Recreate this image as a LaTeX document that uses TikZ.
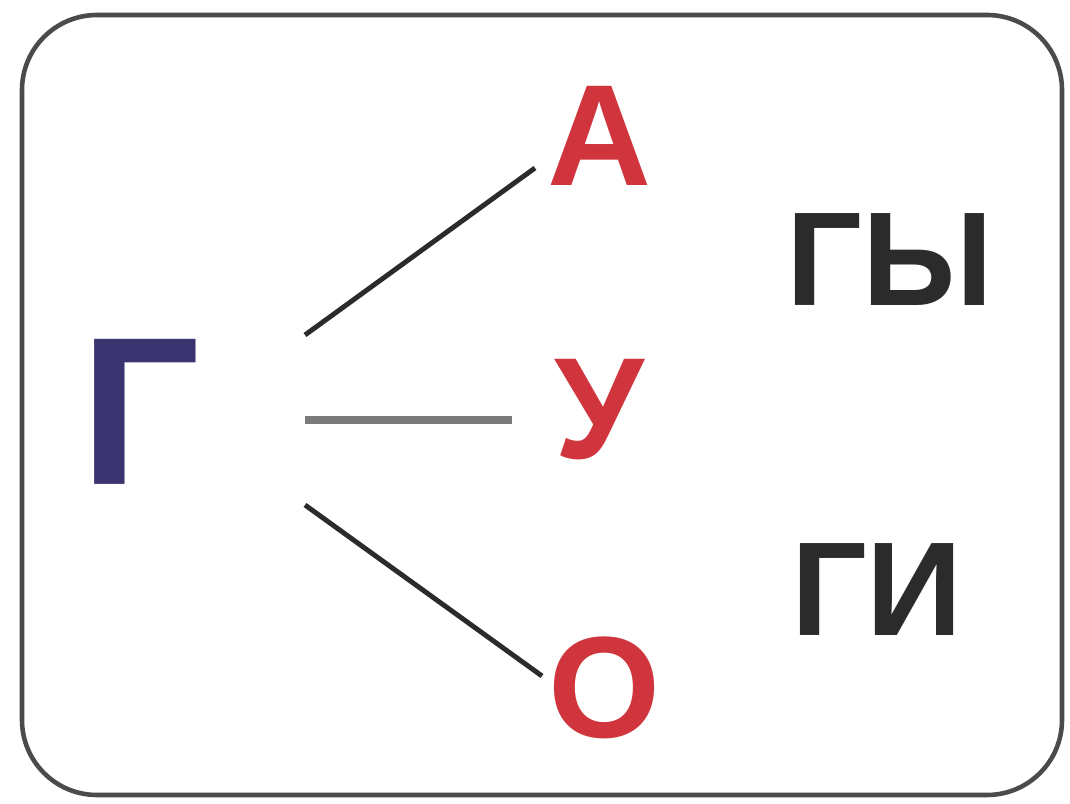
\documentclass[tikz,border=0pt]{standalone}
\usepackage{fontspec}
\setmainfont{Liberation Sans}
\definecolor{lred}{HTML}{D0343C}
\definecolor{lblue}{HTML}{3A3470}
\definecolor{ldark}{HTML}{2B2B2B}
\definecolor{lgray}{HTML}{7A7A7A}
\begin{document}
\begin{tikzpicture}[x=0.01cm,y=-0.01cm,
  big/.style={font=\fontsize{60}{64}\selectfont\bfseries, text=lblue, inner sep=0pt},
  vow/.style={font=\fontsize{41}{44}\selectfont\bfseries, text=lred, inner sep=0pt},
  syl/.style={font=\fontsize{38}{42}\selectfont\bfseries, text=ldark, inner sep=0pt},
  link/.style={draw=ldark, line width=1.4pt},
  framebox/.style={draw=ldark!85, line width=1.3pt, rounded corners=0.75cm}]
\useasboundingbox (0,0) rectangle (1070,804);
\draw[framebox] (22,15) rectangle (1062,795);
\node[big] (g) at (140,412) {Г};
\node[vow] (a) at (600,136) {А};
\node[vow] (u) at (599,410) {У};
\node[vow] (o) at (605,688) {О};
\node[syl] (gy) at (890,260) {ГЫ};
\node[syl] (gi) at (877,590) {ГИ};
\coordinate (ga) at (305,335);
\coordinate (gu) at (305,420);
\coordinate (go) at (305,505);
\coordinate (ae) at (535,168);
\coordinate (ue) at (512,420);
\coordinate (oe) at (542,676);
\draw[link] (ga) -- (ae);
\draw[link, draw=lgray, line width=2pt] (gu) -- (ue);
\draw[link] (go) -- (oe);
\end{tikzpicture}
\end{document}
